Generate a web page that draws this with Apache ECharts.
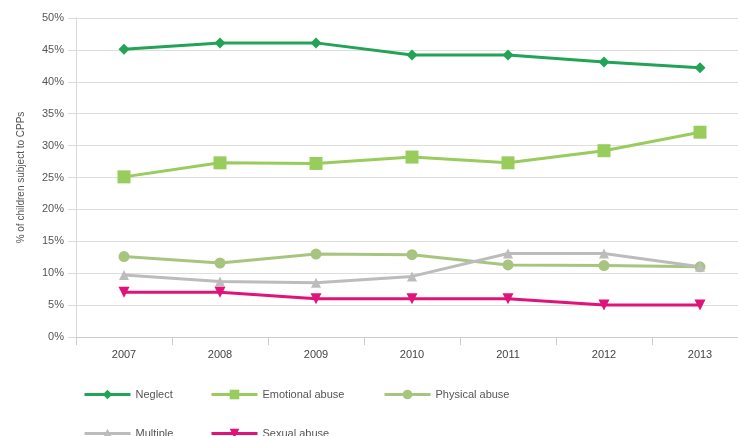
<!DOCTYPE html>
<html><head><meta charset="utf-8">
<script src="https://cdn.jsdelivr.net/npm/echarts@6/dist/echarts.min.js"></script>
<style>html,body{margin:0;padding:0;background:#fff;overflow:hidden}#c{width:748px;height:436px}</style>
</head><body><div id="c"></div>
<script>
var years = ['2007','2008','2009','2010','2011','2012','2013'];
var yTicks = [0,5,10,15,20,25,30,35,40,45,50];
var neglect = [45.1, 46.1, 46.1, 44.2, 44.2, 43.1, 42.2];
var emotional = [25.1, 27.3, 27.2, 28.2, 27.3, 29.2, 32.1];
var physical = [12.6, 11.6, 13.0, 12.9, 11.3, 11.2, 11.0];
var multiple = [9.7, 8.7, 8.5, 9.5, 13.1, 13.1, 11.0];
var sexual = [7.0, 7.0, 6.0, 6.0, 6.0, 5.0, 5.0];

var colors = {neglect:'#22a356', emotional:'#98cc5c', physical:'#a8c580', multiple:'#bcbcbc', sexual:'#e0137a'};
function s(name, data, color, symbol, size, rot){
  return {name:name, type:'line', data:data, symbol:symbol, symbolSize:size, symbolRotate:rot||0,
    lineStyle:{color:color, width:3}, itemStyle:{color:color}, z: 3};
}
function lg(name, left, top){
  return {left:left, top:top, itemWidth:46, itemHeight:12, data:[name],
    lineStyle:{width:3},
    textStyle:{fontSize:11, color:'#555', fontFamily:'Liberation Sans, Arial'}};
}
var chart = echarts.init(document.getElementById('c'));
chart.setOption({
  animation:false,
  textStyle:{fontFamily:'Liberation Sans, Arial'},
  grid:{left:76, right:0, top:18, bottom:99},
  xAxis:{type:'category', data:years, boundaryGap:true,
    axisLine:{lineStyle:{color:'#cccccc'}},
    axisTick:{show:true, length:8, lineStyle:{color:'#cccccc'}},
    axisLabel:{color:'#444', fontSize:11, margin:12}},
  yAxis:{type:'value', min:0, max:50, interval:5,
    name:'% of children subject to CPPs', nameLocation:'middle', nameGap:50,
    nameTextStyle:{color:'#555', fontSize:10},
    axisLine:{show:true, lineStyle:{color:'#d9d9d9'}},
    axisTick:{show:true, length:8, lineStyle:{color:'#d9d9d9'}},
    splitLine:{lineStyle:{color:'#dedede'}},
    axisLabel:{color:'#555', fontSize:11, margin:12, formatter:function(v){return v+'%';}}},
  legend:[
    lg('Neglect', 78, 384),
    lg('Emotional abuse', 205, 384),
    lg('Physical abuse', 378, 384),
    lg('Multiple', 78, 423),
    lg('Sexual abuse', 205, 423)
  ],
  series:[
    s('Neglect', neglect, colors.neglect, 'diamond', 11),
    s('Emotional abuse', emotional, colors.emotional, 'rect', 13),
    s('Physical abuse', physical, colors.physical, 'circle', 11),
    s('Multiple', multiple, colors.multiple, 'triangle', 10),
    s('Sexual abuse', sexual, colors.sexual, 'triangle', 11, 180)
  ]
});
</script></body></html>
